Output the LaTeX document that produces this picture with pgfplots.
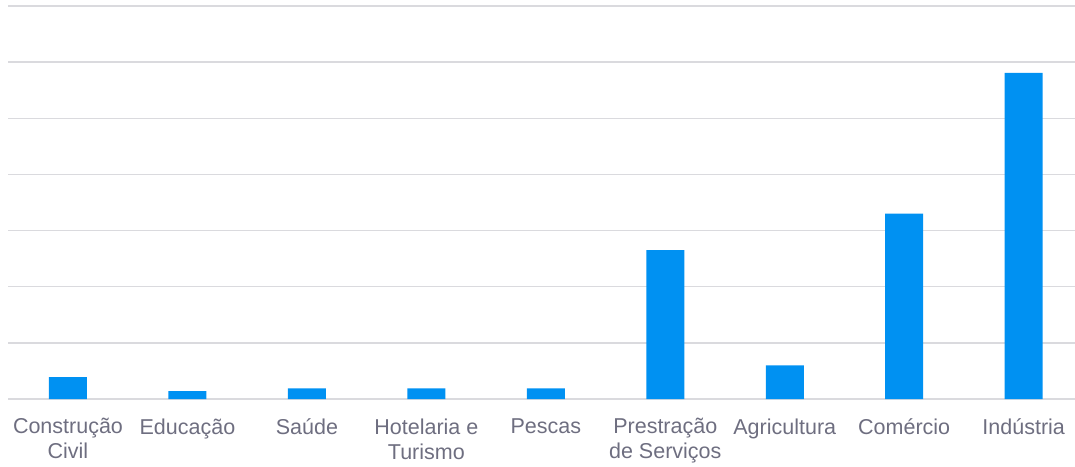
\documentclass[border=0pt]{standalone}
\usepackage{fontspec}
\setmainfont{Liberation Sans}
\usepackage{pgfplots}
\pgfplotsset{compat=1.18}
\definecolor{barblue}{RGB}{0,145,242}
\definecolor{gridgray}{RGB}{218,218,222}
\definecolor{labgray}{RGB}{110,110,128}
\begin{document}
\begin{tikzpicture}[x=1pt,y=1pt]
\useasboundingbox (-8.25,-67) rectangle (1066.75,399);
\begin{axis}[
  at={(0,0)}, anchor=south west,
  scale only axis,
  width=1066.75pt, height=393pt,
  xmin=-0.5, xmax=8.43,
  ymin=0, ymax=70,
  ytick={0,10,...,70},
  yticklabels={},
  ymajorgrids,
  grid style={gridgray, line width=1.5pt},
  axis line style={draw=none},
  major tick length=0pt,
  xtick={0,...,8},
  xticklabels={Construção\\Civil, Educação, Saúde, Hotelaria e\\Turismo, Pescas, Prestração\\de Serviços, Agricultura, Comércio, Indústria},
  xticklabel style={align=center, font=\fontsize{21.5}{25}\selectfont, text=labgray, anchor=north, yshift=-16pt},
  clip=false,
]
\addplot[ybar, bar width=38pt, fill=barblue, draw=none] coordinates {
  (0,3.9) (1,1.4) (2,1.9) (3,1.9) (4,1.9) (5,26.5) (6,6.0) (7,33.0) (8,58.1)
};
\end{axis}
\end{tikzpicture}
\end{document}
